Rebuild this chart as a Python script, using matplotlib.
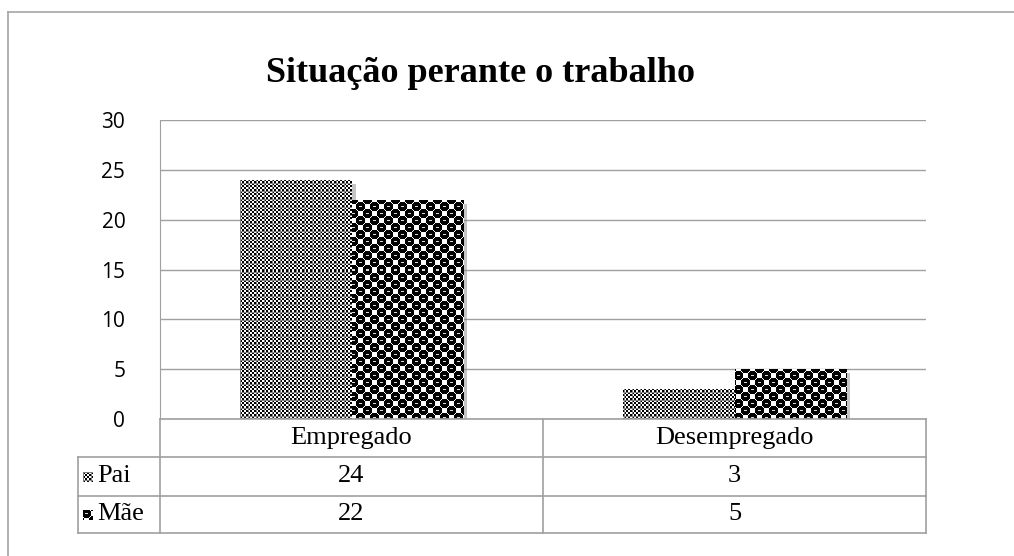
import numpy as np
import matplotlib.pyplot as plt
import matplotlib.patheffects as pe
from matplotlib.lines import Line2D

W, H = 1014, 556

categories = ["Empregado", "Desempregado"]
series = ["Pai", "Mãe"]
pai = [24, 3]
mae = [22, 5]
title = "Situação perante o trabalho"
yticks = [0, 5, 10, 15, 20, 25, 30]

GRID = "#a0a0a0"
SERIF = "Liberation Serif"


def px(x):
    return x / W


def py(y):
    return 1 - y / H


def pattern_pai(h, w):
    yy, xx = np.indices((h, w))
    img = ((yy // 2 + xx // 2) % 2).astype(float)
    img[(yy % 8 == 0)] = 0.5
    img[(xx % 8 == 0)] = 0.5
    return img


def pattern_mae(h, w, cell=7, rad=4.9):
    # black balls on a checker lattice, each with a small white glint
    yy, xx = np.indices((h, w))
    img = np.ones((h, w))
    ci, cj = yy // cell, xx // cell
    for di in (-1, 0, 1):
        for dj in (-1, 0, 1):
            i, j = ci + di, cj + dj
            on = ((i + j) % 2) == 0
            cy = i * cell + cell / 2 - 0.5
            cx = j * cell + cell / 2 - 0.5
            inside = on & (np.hypot((yy - cy) * 1.1, xx - cx) < rad)
            img[inside] = 0
    own = ((ci + cj) % 2) == 0
    cy = ci * cell + cell / 2 - 0.5
    cx = cj * cell + cell / 2 - 0.5
    hl = own & (np.abs(yy - cy) < 0.6) & (np.abs(xx - cx) < 1.6)
    img[hl] = 0.85
    return img


fig = plt.figure(figsize=(W / 100, H / 100), dpi=100)

# outer chart border (only top/left visible in the reference)
fig.add_artist(Line2D([px(8), px(8)], [py(12), 0], color="#a6a6a6", lw=1.2,
                      transform=fig.transFigure))
fig.add_artist(Line2D([px(8), 1], [py(12), py(12)], color="#a6a6a6", lw=1.2,
                      transform=fig.transFigure))

x0, x1, y0, y1 = 160, 926, 120, 419
ax = fig.add_axes([px(x0), py(y1), px(x1) - px(x0), py(y0) - py(y1)])

x = np.arange(len(categories))
bw = 0.29
bars_pai = ax.bar(x - bw / 2, pai, bw, color="white", zorder=2)
bars_mae = ax.bar(x + bw / 2, mae, bw, color="white", zorder=2)

shadow = [pe.SimplePatchShadow(offset=(3, -3), shadow_rgbFace="#808080", alpha=0.45),
          pe.Normal()]
for b in list(bars_pai) + list(bars_mae):
    b.set_path_effects(shadow)

ph, pw = y1 - y0, x1 - x0
tex_pai = pattern_pai(ph, pw)
tex_mae = pattern_mae(ph, pw)
for bars, tex in [(bars_pai, tex_pai), (bars_mae, tex_mae)]:
    for b in bars:
        im = ax.imshow(tex, cmap="gray", vmin=0, vmax=1, extent=(-0.5, 1.5, 0, 30),
                       aspect="auto", interpolation="nearest", zorder=3)
        im.set_clip_path(b)

ax.set_xlim(-0.5, 1.5)
ax.set_ylim(0, 30)
ax.set_yticks(yticks)
ax.set_xticks([])
ax.yaxis.grid(True, color=GRID, lw=1)
ax.set_axisbelow(True)
for s in ["top", "right", "bottom"]:
    ax.spines[s].set_visible(False)
ax.spines["left"].set_color(GRID)
ax.tick_params(axis="y", length=0, pad=25)
for lab in ax.get_yticklabels():
    lab.set_fontfamily("Open Sans")
    lab.set_fontsize(15)

fig.text(px(480), py(73), title, ha="center", va="center",
         fontsize=26, fontweight="bold", family=SERIF)

# data table under the plot
rows_y = [419, 457, 496, 533]
col_x = [78, 160, 543, 926]


def hline(y, xa, xb):
    fig.add_artist(Line2D([px(xa), px(xb)], [py(y), py(y)], color=GRID,
                          lw=1.2, transform=fig.transFigure))


def vline(x_, ya, yb):
    fig.add_artist(Line2D([px(x_), px(x_)], [py(ya), py(yb)], color=GRID,
                          lw=1.2, transform=fig.transFigure))


hline(rows_y[0], col_x[1], col_x[3])
for y in rows_y[1:]:
    hline(y, col_x[0], col_x[3])
vline(col_x[0], rows_y[1], rows_y[3])
for xc in col_x[1:]:
    vline(xc, rows_y[0], rows_y[3])

centers = [(col_x[1] + col_x[2]) / 2, (col_x[2] + col_x[3]) / 2]
for c, cat in zip(centers, categories):
    fig.text(px(c), py((rows_y[0] + rows_y[1]) / 2), cat, ha="center",
             va="center", fontsize=19, family=SERIF)

for i, (name, vals, tex) in enumerate([(series[0], pai, tex_pai),
                                       (series[1], mae, tex_mae)]):
    yc = (rows_y[i + 1] + rows_y[i + 2]) / 2
    fig.text(px(97), py(yc), name, ha="left", va="center", fontsize=19, family=SERIF)
    fig.figimage(tex[:10, :10], xo=83, yo=int(H - yc - 5), cmap="gray",
                 vmin=0, vmax=1, zorder=5)
    for c, v in zip(centers, vals):
        fig.text(px(c), py(yc), str(v), ha="center", va="center",
                 fontsize=19, family=SERIF)

fig.savefig("out.png", dpi=100)
